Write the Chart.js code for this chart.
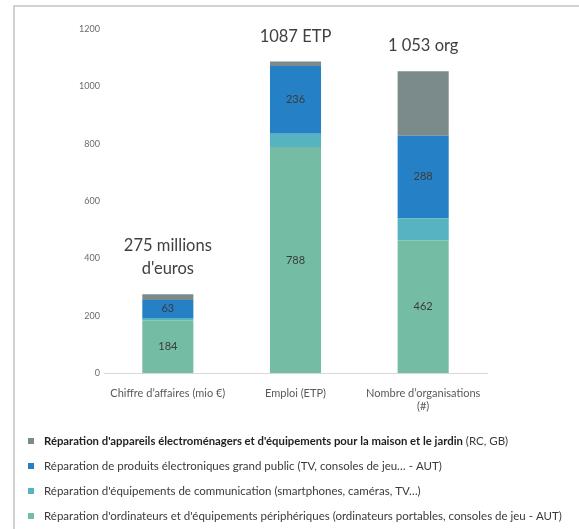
<!DOCTYPE html>
<html>
<head>
<meta charset="utf-8">
<script src="https://cdn.jsdelivr.net/npm/chart.js@4/dist/chart.umd.min.js"></script>
<style>
  html, body { margin: 0; padding: 0; background: #fff; }
  #wrap { width: 579px; height: 529px; position: relative; }
</style>
</head>
<body>
<div id="wrap"><canvas id="repairChart"></canvas></div>
<script>
// categories on the x axis
const categories = [["Chiffre d’affaires (mio €)"], ["Emploi (ETP)"], ["Nombre d’organisations", "(#)"]];

// stacked series, bottom to top
const ordinateurs = [184, 788, 462];
const communication = [8, 47, 78];
const electronique = [63, 236, 288];
const electromenager = [20, 16, 225];

// totals written above each bar
const totalLabels = [["275 millions", "d'euros"], ["1087 ETP"], ["1 053 org"]];

// y axis
const yMax = 1200;
const yStep = 200;

const FONT = "Lato, 'Open Sans', sans-serif";

// legend order (top to bottom), ds = index in the stack
const legendItems = [
    { bold: "Réparation d'appareils électroménagers et d'équipements pour la maison et le jardin", rest: " (RC, GB)", ds: 3 },
    { bold: "", rest: "Réparation de produits électroniques grand public (TV, consoles de jeu… - AUT)", ds: 2 },
    { bold: "", rest: "Réparation d'équipements de communication (smartphones, caméras, TV…)", ds: 1 },
    { bold: "", rest: "Réparation d'ordinateurs et d'équipements périphériques (ordinateurs portables, consoles de jeu - AUT)", ds: 0 }
];

// thin grey frame, top and left
const framePlugin = {
    id: "frame",
    beforeDraw(chart) {
        const ctx = chart.ctx;
        ctx.save();
        ctx.strokeStyle = "#c3c3c3";
        ctx.lineWidth = 1.5;
        ctx.beginPath();
        ctx.moveTo(14, chart.height);
        ctx.lineTo(14, 6);
        ctx.lineTo(chart.width, 6);
        ctx.stroke();
        ctx.restore();
    }
};

// values inside the segments + totals above the bars
const labelsPlugin = {
    id: "barLabels",
    afterDatasetsDraw(chart) {
        const ctx = chart.ctx;
        const y = chart.scales.y;
        ctx.save();
        ctx.textAlign = "center";
        ctx.textBaseline = "middle";
        chart.data.datasets.forEach((ds, i) => {
            if (!ds.showValues) return;
            const meta = chart.getDatasetMeta(i);
            meta.data.forEach((bar, j) => {
                ctx.font = "11px " + FONT;
                ctx.fillStyle = "#3b3b3b";
                ctx.fillText(ds.data[j], bar.x, (bar.y + bar.base) / 2);
            });
        });
        const firstMeta = chart.getDatasetMeta(0);
        categories.forEach((c, j) => {
            let sum = 0;
            chart.data.datasets.forEach(ds => { sum += ds.data[j]; });
            const top = y.getPixelForValue(sum);
            const lines = totalLabels[j];
            ctx.font = "16.5px " + FONT;
            ctx.fillStyle = "#404040";
            lines.forEach((t, k) => {
                const ly = top - 25 - (lines.length - 1 - k) * 23;
                ctx.fillText(t, firstMeta.data[j].x, ly);
            });
        });
        ctx.restore();
    }
};

// legend with a partly bold first entry
const legendPlugin = {
    id: "customLegend",
    afterDraw(chart) {
        const ctx = chart.ctx;
        const x0 = 28, tx = 44;
        let yy = chart.chartArea.bottom + 68;
        ctx.save();
        ctx.textBaseline = "middle";
        legendItems.forEach(item => {
            ctx.fillStyle = chart.data.datasets[item.ds].backgroundColor;
            ctx.fillRect(x0, yy - 3, 6, 6);
            let x = tx;
            if (item.bold) {
                ctx.font = "bold 11.3px " + FONT;
                ctx.fillStyle = "#1f1f1f";
                ctx.fillText(item.bold, x, yy);
                x += ctx.measureText(item.bold).width;
            }
            ctx.font = "11.5px " + FONT;
            ctx.fillStyle = "#3a3a3a";
            ctx.fillText(item.rest, x, yy);
            yy += 25;
        });
        ctx.restore();
    }
};

const ctx = document.getElementById("repairChart").getContext("2d");
new Chart(ctx, {
    type: "bar",
    data: {
        labels: categories,
        datasets: [
            { label: "Ordinateurs", data: ordinateurs, backgroundColor: "#75bca5", showValues: true },
            { label: "Communication", data: communication, backgroundColor: "#56b3bf" },
            { label: "Électronique grand public", data: electronique, backgroundColor: "#2680c6", showValues: true },
            { label: "Électroménager", data: electromenager, backgroundColor: "#7b8a8b" }
        ]
    },
    options: {
        responsive: true,
        maintainAspectRatio: false,
        animation: false,
        categoryPercentage: 0.4,
        barPercentage: 1.0,
        layout: { padding: { left: 14, right: 92, top: 29, bottom: 116 } },
        plugins: {
            legend: { display: false },
            tooltip: { enabled: false }
        },
        scales: {
            x: {
                stacked: true,
                grid: { display: false },
                border: { display: true, color: "#d9d9d9", width: 1 },
                ticks: { color: "#595959", font: { family: FONT, size: 11 }, padding: 6, maxRotation: 0 },
                afterFit: s => { s.height = 40; }
            },
            y: {
                stacked: true,
                min: 0,
                max: yMax,
                grid: { display: false, drawTicks: false },
                border: { display: false },
                ticks: {
                    stepSize: yStep,
                    color: "#6b6b6b",
                    font: { family: FONT, size: 9 },
                    padding: 4,
                    callback: v => String(v)
                },
                afterFit: s => { s.width = 90; }
            }
        }
    },
    plugins: [framePlugin, labelsPlugin, legendPlugin]
});
</script>
</body>
</html>
